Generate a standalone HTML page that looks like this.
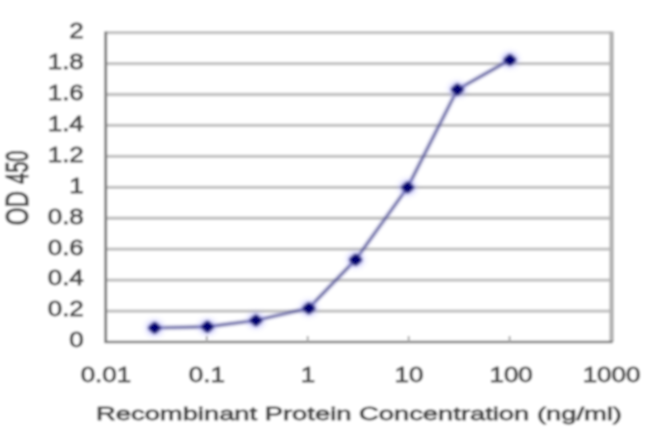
<!DOCTYPE html>
<html><head><meta charset="utf-8"><title>ELISA standard curve</title><style>
html,body{margin:0;padding:0;background:#fff;width:650px;height:434px;overflow:hidden}
svg{display:block}
text{font-family:"Liberation Sans",Arial,sans-serif;fill:#4c4c4c;stroke:#4c4c4c;stroke-linejoin:round}
</style></head><body>
<svg width="650" height="434" viewBox="0 0 650 434">
<defs><filter id="b" x="0" y="0" width="100%" height="100%"><feGaussianBlur stdDeviation="1.2"/></filter><filter id="h" x="-50%" y="-50%" width="200%" height="200%"><feGaussianBlur stdDeviation="2.0"/></filter><filter id="t" x="-2%" y="-2%" width="104%" height="104%"><feGaussianBlur stdDeviation="0.6"/></filter><filter id="m" x="-5%" y="-5%" width="110%" height="110%"><feGaussianBlur stdDeviation="1.1"/></filter></defs>
<g filter="url(#b)">
<rect x="0" y="0" width="650" height="434" fill="#fff"/>
<line x1="105.7" x2="611.6" y1="311.06" y2="311.06" stroke="#c4c4c4" stroke-width="3.3"/>
<line x1="105.7" x2="611.6" y1="280.12" y2="280.12" stroke="#c4c4c4" stroke-width="3.3"/>
<line x1="105.7" x2="611.6" y1="249.18" y2="249.18" stroke="#c4c4c4" stroke-width="3.3"/>
<line x1="105.7" x2="611.6" y1="218.24" y2="218.24" stroke="#c4c4c4" stroke-width="3.3"/>
<line x1="105.7" x2="611.6" y1="187.30" y2="187.30" stroke="#c4c4c4" stroke-width="3.3"/>
<line x1="105.7" x2="611.6" y1="156.36" y2="156.36" stroke="#c4c4c4" stroke-width="3.3"/>
<line x1="105.7" x2="611.6" y1="125.42" y2="125.42" stroke="#c4c4c4" stroke-width="3.3"/>
<line x1="105.7" x2="611.6" y1="94.48" y2="94.48" stroke="#c4c4c4" stroke-width="3.3"/>
<line x1="105.7" x2="611.6" y1="63.54" y2="63.54" stroke="#c4c4c4" stroke-width="3.3"/>
<line x1="105.7" x2="611.6" y1="32.60" y2="32.60" stroke="#c4c4c4" stroke-width="3.3"/>
<line x1="611.6" x2="611.6" y1="31.60" y2="342.00" stroke="#b4b4b4" stroke-width="4.5"/>
<line x1="105.7" x2="105.7" y1="31.60" y2="343.00" stroke="#808080" stroke-width="3.0"/>
<line x1="104.7" x2="612.6" y1="342.00" y2="342.00" stroke="#7c7c7c" stroke-width="2.6"/>
<line x1="206.8" x2="206.8" y1="336.00" y2="342.00" stroke="#aaa" stroke-width="2"/>
<line x1="307.7" x2="307.7" y1="336.00" y2="342.00" stroke="#aaa" stroke-width="2"/>
<line x1="408.7" x2="408.7" y1="336.00" y2="342.00" stroke="#aaa" stroke-width="2"/>
<line x1="509.6" x2="509.6" y1="336.00" y2="342.00" stroke="#aaa" stroke-width="2"/>
<g filter="url(#m)">
<polyline points="154.6,327.9 207.4,326.8 255.9,320.4 308.8,308.2 355.6,259.7 407.6,187.4 457.4,89.5 509.9,59.9" fill="none" stroke="#a8a8f0" stroke-width="5.0" stroke-linejoin="round" opacity="0.25"/>
<polyline points="154.6,327.9 207.4,326.8 255.9,320.4 308.8,308.2 355.6,259.7 407.6,187.4 457.4,89.5 509.9,59.9" fill="none" stroke="#46468a" stroke-width="2.4" stroke-linejoin="round"/>
<ellipse cx="154.6" cy="327.9" rx="8.5" ry="7.82" fill="#9a9aff" opacity="0.5" filter="url(#h)"/>
<path d="M150.6 327.9L154.6 324.4L158.6 327.9L154.6 331.4Z" fill="#000070" stroke="#000070" stroke-width="5.2" stroke-linejoin="round"/>
<ellipse cx="207.4" cy="326.8" rx="8.5" ry="7.82" fill="#9a9aff" opacity="0.5" filter="url(#h)"/>
<path d="M203.4 326.8L207.4 323.3L211.4 326.8L207.4 330.3Z" fill="#000070" stroke="#000070" stroke-width="5.2" stroke-linejoin="round"/>
<ellipse cx="255.9" cy="320.4" rx="8.5" ry="7.82" fill="#9a9aff" opacity="0.5" filter="url(#h)"/>
<path d="M251.9 320.4L255.9 316.9L259.9 320.4L255.9 323.9Z" fill="#000070" stroke="#000070" stroke-width="5.2" stroke-linejoin="round"/>
<ellipse cx="308.8" cy="308.2" rx="8.5" ry="7.82" fill="#9a9aff" opacity="0.5" filter="url(#h)"/>
<path d="M304.8 308.2L308.8 304.7L312.8 308.2L308.8 311.7Z" fill="#000070" stroke="#000070" stroke-width="5.2" stroke-linejoin="round"/>
<ellipse cx="355.6" cy="259.7" rx="8.5" ry="7.82" fill="#9a9aff" opacity="0.5" filter="url(#h)"/>
<path d="M351.6 259.7L355.6 256.2L359.6 259.7L355.6 263.2Z" fill="#000070" stroke="#000070" stroke-width="5.2" stroke-linejoin="round"/>
<ellipse cx="407.6" cy="187.4" rx="8.5" ry="7.82" fill="#9a9aff" opacity="0.5" filter="url(#h)"/>
<path d="M403.6 187.4L407.6 183.9L411.6 187.4L407.6 190.9Z" fill="#000070" stroke="#000070" stroke-width="5.2" stroke-linejoin="round"/>
<ellipse cx="457.4" cy="89.5" rx="8.5" ry="7.82" fill="#9a9aff" opacity="0.5" filter="url(#h)"/>
<path d="M453.4 89.5L457.4 86.0L461.4 89.5L457.4 93.0Z" fill="#000070" stroke="#000070" stroke-width="5.2" stroke-linejoin="round"/>
<ellipse cx="509.9" cy="59.9" rx="8.5" ry="7.82" fill="#9a9aff" opacity="0.5" filter="url(#h)"/>
<path d="M505.9 59.9L509.9 56.4L513.9 59.9L509.9 63.4Z" fill="#000070" stroke="#000070" stroke-width="5.2" stroke-linejoin="round"/>
</g>
<g filter="url(#t)">
<text transform="translate(83.8,347.3) scale(1.18,1)" text-anchor="end" font-size="22" stroke-width="0.9" font-weight="normal">0</text>
<text transform="translate(83.8,316.4) scale(1.18,1)" text-anchor="end" font-size="22" stroke-width="0.9" font-weight="normal">0.2</text>
<text transform="translate(83.8,285.4) scale(1.18,1)" text-anchor="end" font-size="22" stroke-width="0.9" font-weight="normal">0.4</text>
<text transform="translate(83.8,254.5) scale(1.18,1)" text-anchor="end" font-size="22" stroke-width="0.9" font-weight="normal">0.6</text>
<text transform="translate(83.8,223.5) scale(1.18,1)" text-anchor="end" font-size="22" stroke-width="0.9" font-weight="normal">0.8</text>
<text transform="translate(83.8,192.6) scale(1.18,1)" text-anchor="end" font-size="22" stroke-width="0.9" font-weight="normal">1</text>
<text transform="translate(83.8,161.7) scale(1.18,1)" text-anchor="end" font-size="22" stroke-width="0.9" font-weight="normal">1.2</text>
<text transform="translate(83.8,130.7) scale(1.18,1)" text-anchor="end" font-size="22" stroke-width="0.9" font-weight="normal">1.4</text>
<text transform="translate(83.8,99.8) scale(1.18,1)" text-anchor="end" font-size="22" stroke-width="0.9" font-weight="normal">1.6</text>
<text transform="translate(83.8,68.8) scale(1.18,1)" text-anchor="end" font-size="22" stroke-width="0.9" font-weight="normal">1.8</text>
<text transform="translate(83.8,37.9) scale(1.18,1)" text-anchor="end" font-size="22" stroke-width="0.9" font-weight="normal">2</text>
<text transform="translate(105.9,382.4) scale(1.18,1)" text-anchor="middle" font-size="22" stroke-width="0.9" font-weight="normal">0.01</text>
<text transform="translate(206.8,382.4) scale(1.18,1)" text-anchor="middle" font-size="22" stroke-width="0.9" font-weight="normal">0.1</text>
<text transform="translate(308.0,382.4) scale(1.18,1)" text-anchor="middle" font-size="22" stroke-width="0.9" font-weight="normal">1</text>
<text transform="translate(409.0,382.4) scale(1.18,1)" text-anchor="middle" font-size="22" stroke-width="0.9" font-weight="normal">10</text>
<text transform="translate(511.1,382.4) scale(1.18,1)" text-anchor="middle" font-size="22" stroke-width="0.9" font-weight="normal">100</text>
<text transform="translate(611.5,382.4) scale(1.18,1)" text-anchor="middle" font-size="22" stroke-width="0.9" font-weight="normal">1000</text>
<text transform="translate(359,420.3) scale(1.425,1)" text-anchor="middle" font-size="19.2" stroke-width="0.9" font-weight="normal">Recombinant Protein Concentration (ng/ml)</text>
<text transform="translate(27.5,225.2) rotate(-90) scale(1,1.38)" font-size="22.8" stroke-width="0.9">OD</text>
<text transform="translate(27.5,184.0) rotate(-90) scale(0.88,1.38)" font-size="22.8" stroke-width="0.9">450</text>
</g>
</g>
</svg>
</body></html>
